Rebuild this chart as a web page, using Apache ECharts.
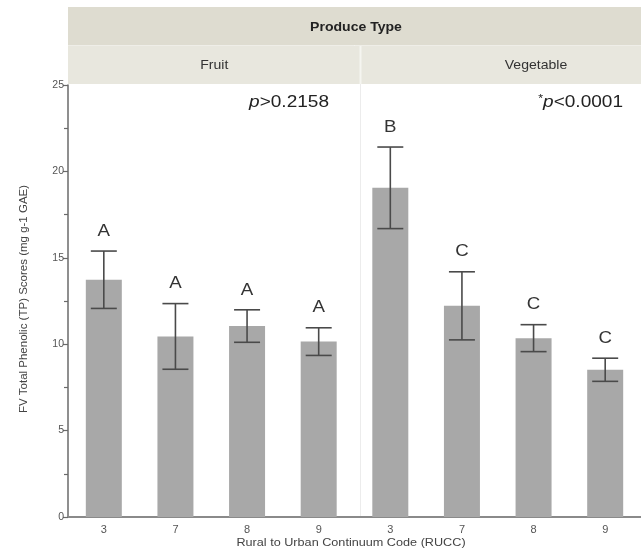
<!DOCTYPE html>
<html>
<head>
<meta charset="utf-8">
<style>
  html, body { margin: 0; padding: 0; background: #fff; }
  #chart { width: 641px; height: 549px; }
</style>
<script src="https://cdn.jsdelivr.net/npm/echarts@6/dist/echarts.min.js"></script>
</head>
<body>
<div id="chart"></div>
<script>
// Rural to Urban Continuum Codes, fruit panel then vegetable panel
const rucc = ['3', '7', '8', '9', '3', '7', '8', '9'];
const produceGroups = ['Fruit', 'Vegetable'];
// Mean total phenolic scores (mg g-1 GAE)
const meanScores = [13.73, 10.45, 11.05, 10.15, 19.05, 12.22, 10.35, 8.52];
// Half-width of each error bar
const errorHalf = [1.66, 1.90, 0.94, 0.80, 2.36, 1.97, 0.78, 0.67];
// Significance letters above each bar
const groupLetters = ['A', 'A', 'A', 'A', 'B', 'C', 'C', 'C'];
const yTicks = [0, 5, 10, 15, 20, 25];

const FONT = '"Liberation Sans", Arial, Helvetica, sans-serif';
const chart = echarts.init(document.getElementById('chart'), null, { renderer: 'canvas' });

const gridLeft = 68, gridTop = 85, gridWidth = 585, gridHeight = 432;
const panelDivide = gridLeft + gridWidth / 2;

const errorData = meanScores.map((m, i) => [i, m, errorHalf[i]]);

chart.setOption({
  animation: false,
  backgroundColor: '#ffffff',
  grid: { left: gridLeft, top: gridTop, width: gridWidth, height: gridHeight, containLabel: false },
  xAxis: {
    type: 'category',
    data: rucc,
    boundaryGap: true,
    axisLine: { show: true, lineStyle: { color: '#8a8a8a', width: 2 } },
    axisTick: { show: false },
    axisLabel: { color: '#555', fontSize: 11, fontFamily: FONT, margin: 7 },
    splitLine: { show: false }
  },
  yAxis: {
    type: 'value',
    min: yTicks[0],
    max: yTicks[yTicks.length - 1],
    interval: 5,
    axisLine: { show: true, lineStyle: { color: '#6a6a6a', width: 1.5 } },
    axisTick: { show: true, inside: false, length: 5, lineStyle: { color: '#6a6a6a', width: 1.2 } },
    minorTick: { show: true, splitNumber: 2, length: 4, lineStyle: { color: '#6a6a6a', width: 1.2 } },
    axisLabel: { color: '#555', fontSize: 10.5, fontFamily: FONT, margin: 4 },
    splitLine: { show: false }
  },
  series: [
    {
      type: 'bar',
      data: meanScores,
      barWidth: 36,
      itemStyle: { color: '#a8a8a8' },
      z: 2
    },
    {
      type: 'custom',
      data: errorData,
      z: 5,
      renderItem: function (params, api) {
        const idx = api.value(0);
        const m = api.value(1);
        const e = api.value(2);
        const letter = groupLetters[params.dataIndex];
        const hi = api.coord([idx, m + e]);
        const lo = api.coord([idx, m - e]);
        const cap = 13;
        const stroke = { stroke: '#4a4a4a', lineWidth: 1.6 };
        return {
          type: 'group',
          children: [
            { type: 'line', shape: { x1: hi[0], y1: hi[1], x2: lo[0], y2: lo[1] }, style: stroke },
            { type: 'line', shape: { x1: hi[0] - cap, y1: hi[1], x2: hi[0] + cap, y2: hi[1] }, style: stroke },
            { type: 'line', shape: { x1: lo[0] - cap, y1: lo[1], x2: lo[0] + cap, y2: lo[1] }, style: stroke },
            {
              type: 'text',
              x: hi[0], y: hi[1] - 20,
              scaleX: 1.1,
              style: {
                text: letter, fill: '#333', font: '17px ' + FONT,
                align: 'center', verticalAlign: 'middle'
              }
            }
          ]
        };
      }
    }
  ],
  graphic: [
    // header bands
    { type: 'rect', shape: { x: gridLeft, y: 7, width: 641 - gridLeft, height: 38 }, style: { fill: '#dedcd0' }, silent: true },
    { type: 'rect', shape: { x: gridLeft, y: 46, width: 641 - gridLeft, height: 38 }, style: { fill: '#e8e7de' }, silent: true },
    { type: 'line', shape: { x1: gridLeft, y1: 45.5, x2: 641, y2: 45.5 }, style: { stroke: '#efeee8', lineWidth: 1 }, silent: true },
    { type: 'line', shape: { x1: panelDivide, y1: 46, x2: panelDivide, y2: 84 }, style: { stroke: '#f5f5f0', lineWidth: 2 }, silent: true },
    { type: 'line', shape: { x1: panelDivide, y1: 84, x2: panelDivide, y2: 516 }, style: { stroke: '#ececec', lineWidth: 1 }, silent: true },
    {
      type: 'text', x: 356, y: 27, scaleX: 1.08,
      style: { text: 'Produce Type', font: 'bold 13px ' + FONT, fill: '#222', align: 'center', verticalAlign: 'middle' }
    },
    {
      type: 'text', x: (gridLeft + panelDivide) / 2, y: 65, scaleX: 1.08,
      style: { text: produceGroups[0], font: '13px ' + FONT, fill: '#333', align: 'center', verticalAlign: 'middle' }
    },
    {
      type: 'text', x: 536, y: 65, scaleX: 1.08,
      style: { text: produceGroups[1], font: '13px ' + FONT, fill: '#333', align: 'center', verticalAlign: 'middle' }
    },
    // p-values
    {
      type: 'text', x: 329, y: 102, scaleX: 1.12,
      style: {
        text: '{i|p}>0.2158', font: '17px ' + FONT, fill: '#222', align: 'right', verticalAlign: 'middle',
        rich: { i: { fontStyle: 'italic', fontSize: 17, fontFamily: FONT, fill: '#222' } }
      }
    },
    {
      type: 'text', x: 623, y: 102, scaleX: 1.12,
      style: {
        text: '{s|*}{i|p}<0.0001', font: '17px ' + FONT, fill: '#222', align: 'right', verticalAlign: 'middle',
        rich: {
          s: { fontSize: 11, fontFamily: FONT, fill: '#222', verticalAlign: 'top', padding: [0, 0, 6, 0] },
          i: { fontStyle: 'italic', fontSize: 17, fontFamily: FONT, fill: '#222' }
        }
      }
    },
    // axis titles
    {
      type: 'text', x: 351, y: 543, scaleX: 1.1,
      style: { text: 'Rural to Urban Continuum Code (RUCC)', font: '11.5px ' + FONT, fill: '#444', align: 'center', verticalAlign: 'middle' }
    },
    {
      type: 'text', x: 24, y: 299, rotation: Math.PI / 2,
      style: { text: 'FV Total Phenolic (TP) Scores (mg g-1 GAE)', font: '11.5px ' + FONT, fill: '#444', align: 'center', verticalAlign: 'middle' }
    }
  ]
});
</script>
</body>
</html>
